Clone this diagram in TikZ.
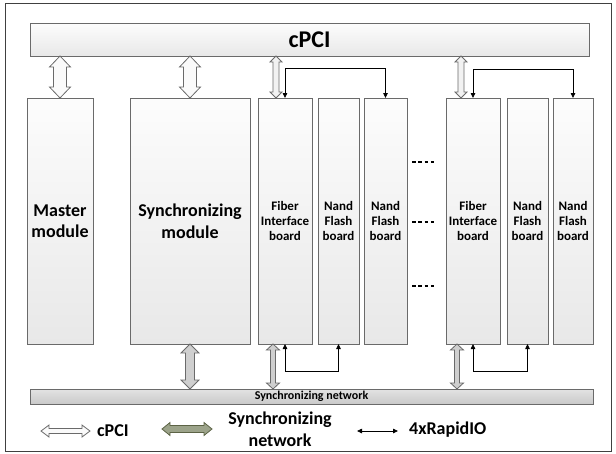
\documentclass[tikz,border=0pt]{standalone}
\usepackage{fontspec}
\setmainfont{Carlito}
\usetikzlibrary{calc,arrows.meta,shadows}
\definecolor{edge}{HTML}{6A6A6A}
\definecolor{frame}{HTML}{404040}
\definecolor{olivefill}{HTML}{9CA38A}
\definecolor{olivedraw}{HTML}{5C6345}
% vertical double arrow: style, top point, bottom point, shaft half, head half, head length
\newcommand\vdarr[6]{%
  \path[#1] let \p1=#2, \p2=#3 in
  (\x1,\y1) -- (\x1+#5pt,\y1-#6pt) -- (\x1+#4pt,\y1-#6pt) -- (\x1+#4pt,\y2+#6pt)
  -- (\x1+#5pt,\y2+#6pt) -- (\x1,\y2) -- (\x1-#5pt,\y2+#6pt) -- (\x1-#4pt,\y2+#6pt)
  -- (\x1-#4pt,\y1-#6pt) -- (\x1-#5pt,\y1-#6pt) -- cycle;}
% horizontal double arrow: style, left point, right point, shaft half, head half, head length
\newcommand\hdarr[6]{%
  \path[#1] let \p1=#2, \p2=#3 in
  (\x1,\y1) -- (\x1+#6pt,\y1+#5pt) -- (\x1+#6pt,\y1+#4pt) -- (\x2-#6pt,\y1+#4pt)
  -- (\x2-#6pt,\y1+#5pt) -- (\x2,\y1) -- (\x2-#6pt,\y1-#5pt) -- (\x2-#6pt,\y1-#4pt)
  -- (\x1+#6pt,\y1-#4pt) -- (\x1+#6pt,\y1-#5pt) -- cycle;}
\begin{document}
\begin{tikzpicture}[x=1pt,y=-1pt,
  box/.style={draw=edge, line width=0.8pt, inner sep=0pt, outer sep=0pt,
    top color=gray!2, bottom color=gray!18,
    drop shadow={shadow xshift=1.2pt, shadow yshift=-1.2pt, opacity=0.25}},
  bigtxt/.style={font=\fontsize{18}{21.5}\selectfont\bfseries, align=center},
  boardtxt/.style={font=\fontsize{13}{15}\selectfont\bfseries, align=center},
  legend/.style={font=\fontsize{18}{22}\selectfont\bfseries, align=center, inner sep=0pt},
  cpciarr/.style={draw=edge, fill=gray!4, line width=0.8pt},
  cpcithin/.style={draw=edge, fill=gray!10, line width=0.8pt},
  netarr/.style={draw=edge, fill=gray!38, line width=0.8pt},
  syncleg/.style={draw=olivedraw, fill=olivefill, line width=0.8pt},
  rio/.style={{Triangle[length=5pt,width=4.5pt]}-{Triangle[length=5pt,width=4.5pt]}, line width=0.8pt}
]
\useasboundingbox (0,0) rectangle (616,453);
\draw[frame, line width=1pt] (5,3) rectangle (611,451);

% cPCI bus
\node[box, minimum width=559pt, minimum height=33pt,
  font=\fontsize{24}{28}\selectfont\bfseries] (cpci) at (309.5,39.5) {cPCI};

% modules and boards
\node[box, bigtxt, minimum width=66pt, minimum height=246pt] (master) at (60,221) {Master\\module};
\node[box, bigtxt, minimum width=120pt, minimum height=246pt] (sync) at (190,221) {Synchronizing\\module};
\node[box, boardtxt, minimum width=54pt, minimum height=246pt] (fib1) at (285,221) {Fiber\\Interface\\board};
\node[box, boardtxt, minimum width=41pt, minimum height=246pt] (nand1) at (338.5,221) {Nand\\Flash\\board};
\node[box, boardtxt, minimum width=43pt, minimum height=246pt] (nand2) at (385.5,221) {Nand\\Flash\\board};
\node[box, boardtxt, minimum width=54pt, minimum height=246pt] (fib2) at (473,221) {Fiber\\Interface\\board};
\node[box, boardtxt, minimum width=41pt, minimum height=246pt] (nand3) at (527.5,221) {Nand\\Flash\\board};
\node[box, boardtxt, minimum width=40pt, minimum height=246pt] (nand4) at (573,221) {Nand\\Flash\\board};

% synchronizing network bar
\node[draw=edge, line width=0.8pt, inner sep=0pt, outer sep=0pt, top color=gray!22, bottom color=gray!42,
  minimum width=563pt, minimum height=15pt, font=\fontsize{12}{14}\selectfont\bfseries,
  drop shadow={shadow xshift=1.2pt, shadow yshift=-1.2pt, opacity=0.25}] (net) at (311.5,396.5) {Synchronizing network};

% dots
\foreach \yy in {162,222,286}
  \draw[line width=1.3pt, dash pattern=on 3.5pt off 2.8pt] (412,\yy) -- (435,\yy);

% cPCI arrows
\coordinate (f1t) at ([xshift=-9pt]fib1.north);
\coordinate (f2t) at ([xshift=-12pt]fib2.north);
\vdarr{cpciarr}{(master.north |- cpci.south)}{(master.north)}{6.5}{10.5}{11}
\vdarr{cpciarr}{(sync.north |- cpci.south)}{(sync.north)}{6.5}{10.5}{11}
\vdarr{cpcithin}{(f1t |- cpci.south)}{(f1t)}{3}{6}{6}
\vdarr{cpcithin}{(f2t |- cpci.south)}{(f2t)}{3}{6}{6}

% synchronizing network arrows
\coordinate (f1b) at ([xshift=-12pt]fib1.south);
\coordinate (f2b) at ([xshift=-16pt]fib2.south);
\vdarr{netarr}{(sync.south)}{(sync.south |- net.north)}{4.5}{9}{9}
\vdarr{netarr}{(f1b)}{(f1b |- net.north)}{2.5}{6.5}{6}
\vdarr{netarr}{(f2b)}{(f2b |- net.north)}{2.5}{6.5}{6}

% RapidIO links
\draw[rio] (fib1.north) -- ++(0,-30) -| (nand2.north);
\draw[rio] (fib2.north) -- ++(0,-29) -| (nand4.north);
\draw[rio] (fib1.south) -- ++(0,27) -| (nand1.south);
\draw[rio] (fib2.south) -- ++(0,27) -| (nand3.south);

% legend
\coordinate (l1a) at (41,431); \coordinate (l1b) at (90,431);
\hdarr{cpciarr}{(l1a)}{(l1b)}{2.5}{6}{8}
\node[legend, anchor=west] (l1t) at (97,431) {cPCI};
\coordinate (l2a) at (162,429); \coordinate (l2b) at (212,429);
\hdarr{syncleg}{(l2a)}{(l2b)}{3.5}{6.5}{8}
\node[legend] (l2t) at (280,429) {Synchronizing\\network};
\coordinate (l3a) at (357,431); \coordinate (l3b) at (398,431);
\draw[rio] (l3a) -- (l3b);
\node[legend, anchor=west] (l3t) at (409,430) {4xRapidIO};
\end{tikzpicture}
\end{document}
